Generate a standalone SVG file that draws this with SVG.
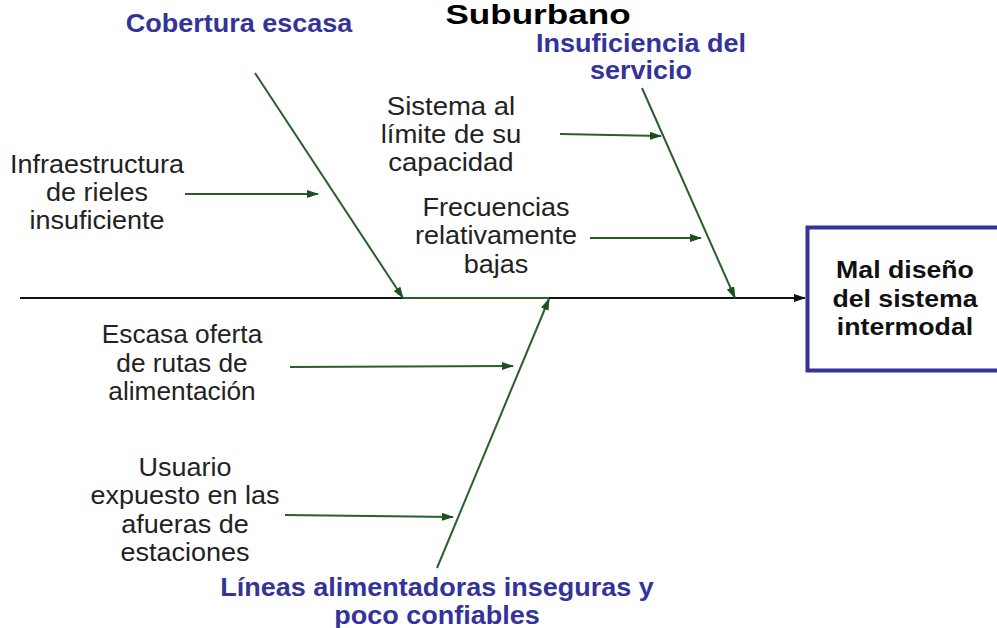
<svg xmlns="http://www.w3.org/2000/svg" width="997" height="628" viewBox="0 0 997 628">
<style>
.t{font-family:"Liberation Sans",Arial,sans-serif;font-size:25px;fill:#222;text-anchor:middle}
.h{font-family:"Liberation Sans",Arial,sans-serif;font-size:25px;font-weight:bold;fill:#333399;text-anchor:middle}
.b{font-family:"Liberation Sans",Arial,sans-serif;font-size:23px;font-weight:bold;fill:#111;text-anchor:middle}
.g{stroke:#2a5e2a;stroke-width:2;fill:none}
</style>
<defs>
<marker id="ag" markerWidth="12" markerHeight="8" refX="11" refY="4" orient="auto" markerUnits="userSpaceOnUse">
<path d="M0,0 L12,4 L0,8 Z" fill="#1f4f1f"/>
</marker>
<marker id="ak" markerWidth="12" markerHeight="8" refX="11" refY="4" orient="auto" markerUnits="userSpaceOnUse">
<path d="M0,0 L12,4 L0,8 Z" fill="#111"/>
</marker>
</defs>
<rect width="997" height="628" fill="#fff"/>

<g id="connectors">
<line x1="20" y1="298" x2="805" y2="298" stroke="#111" stroke-width="2" marker-end="url(#ak)"/>
<line x1="403" y1="298" x2="549" y2="298" stroke="#2a5e2a" stroke-width="2"/>
<line class="g" x1="255" y1="73" x2="403" y2="298" marker-end="url(#ag)"/>
<line class="g" x1="642" y1="88" x2="735" y2="298" marker-end="url(#ag)"/>
<line class="g" x1="437" y1="568" x2="549" y2="299" marker-end="url(#ag)"/>
<line class="g" x1="185" y1="194" x2="318" y2="194" marker-end="url(#ag)"/>
<line class="g" x1="560" y1="134" x2="661" y2="136" marker-end="url(#ag)"/>
<line class="g" x1="590" y1="238" x2="701" y2="238" marker-end="url(#ag)"/>
<line class="g" x1="290" y1="367" x2="513" y2="366" marker-end="url(#ag)"/>
<line class="g" x1="285" y1="515" x2="453" y2="517" marker-end="url(#ag)"/>
</g>

<g id="title">
<text transform="translate(538,0) scale(1.3,1)" x="0" y="24" style="font-family:'Liberation Sans',Arial,sans-serif;font-size:27px;font-weight:bold;fill:#000;text-anchor:middle">Suburbano</text>
</g>

<g id="effect">
<rect x="807.5" y="227.5" width="200" height="143" fill="#fff" stroke="#333399" stroke-width="4"/>
<text class="b" transform="translate(905,0) scale(1.16,1)" x="0" y="278">Mal diseño</text>
<text class="b" transform="translate(905,0) scale(1.16,1)" x="0" y="307">del sistema</text>
<text class="b" transform="translate(905,0) scale(1.16,1)" x="0" y="335">intermodal</text>
</g>

<g id="cat-cobertura">
<text class="h" transform="translate(239,0) scale(1.08,1)" x="0" y="32">Cobertura escasa</text>
</g>

<g id="cat-insuficiencia">
<text class="h" transform="translate(641,0) scale(1.08,1)" x="0" y="52">Insuficiencia del</text>
<text class="h" transform="translate(641,0) scale(1.08,1)" x="0" y="79">servicio</text>
</g>

<g id="cat-lineas">
<text class="h" transform="translate(437,0) scale(1.08,1)" x="0" y="596">Líneas alimentadoras inseguras y</text>
<text class="h" transform="translate(437,0) scale(1.08,1)" x="0" y="624">poco confiables</text>
</g>

<g id="cause-infraestructura">
<text class="t" transform="translate(97,0) scale(1.08,1)" x="0" y="173">Infraestructura</text>
<text class="t" transform="translate(97,0) scale(1.08,1)" x="0" y="201">de rieles</text>
<text class="t" transform="translate(97,0) scale(1.08,1)" x="0" y="229">insuficiente</text>
</g>

<g id="cause-sistema">
<text class="t" transform="translate(451,0) scale(1.1,1)" x="0" y="115">Sistema al</text>
<text class="t" transform="translate(451,0) scale(1.1,1)" x="0" y="143">límite de su</text>
<text class="t" transform="translate(451,0) scale(1.1,1)" x="0" y="171">capacidad</text>
</g>

<g id="cause-frecuencias">
<text class="t" transform="translate(496,0) scale(1.08,1)" x="0" y="216">Frecuencias</text>
<text class="t" transform="translate(496,0) scale(1.08,1)" x="0" y="244">relativamente</text>
<text class="t" transform="translate(496,0) scale(1.08,1)" x="0" y="273">bajas</text>
</g>

<g id="cause-escasa">
<text class="t" transform="translate(182,0) scale(1.05,1)" x="0" y="343">Escasa oferta</text>
<text class="t" transform="translate(182,0) scale(1.05,1)" x="0" y="372">de rutas de</text>
<text class="t" transform="translate(182,0) scale(1.05,1)" x="0" y="400">alimentación</text>
</g>

<g id="cause-usuario">
<text class="t" transform="translate(185,0) scale(1.08,1)" x="0" y="476">Usuario</text>
<text class="t" transform="translate(185,0) scale(1.08,1)" x="0" y="504">expuesto en las</text>
<text class="t" transform="translate(185,0) scale(1.08,1)" x="0" y="533">afueras de</text>
<text class="t" transform="translate(185,0) scale(1.08,1)" x="0" y="561">estaciones</text>
</g>
</svg>
